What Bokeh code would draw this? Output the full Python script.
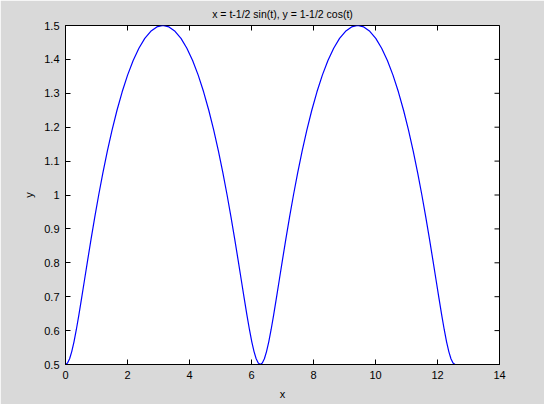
import math
from bokeh.plotting import figure
from bokeh.models import Range1d, FixedTicker
from bokeh.embed import file_html
from bokeh.resources import INLINE

# Points (x, y)
x_vals = [0.0, 0.0656, 0.1324, 0.2014, 0.2736, 0.3501, 0.4318, 0.5196, 0.6142, 0.7162,
          0.8260, 0.9442, 1.0708, 1.2060, 1.3496, 1.5016, 1.6614, 1.8286, 2.0026, 2.1827,
          2.3680, 2.5576, 2.7504, 2.9454, 3.1416, 3.3378, 3.5328, 3.7256, 3.9152, 4.1005,
          4.2806, 4.4546, 4.6218, 4.7816, 4.9336, 5.0772, 5.2124, 5.3390, 5.4572, 5.5670,
          5.6690, 5.7636, 5.8514, 5.9331, 6.0096, 6.0818, 6.1508, 6.2176, 6.2832,
          6.3488, 6.4156, 6.4846, 6.5568, 6.6333, 6.7150, 6.8028, 6.8974, 6.9994, 7.1092,
          7.2274, 7.3540, 7.4892, 7.6328, 7.7848, 7.9446, 8.1118, 8.2858, 8.4659, 8.6512,
          8.8408, 9.0336, 9.2286, 9.4248, 9.6210, 9.8160, 10.0088, 10.1984, 10.3837, 10.5638,
          10.7378, 10.9050, 11.0648, 11.2168, 11.3604, 11.4956, 11.6222, 11.7404, 11.8502,
          11.9522, 12.0468, 12.1346, 12.2163, 12.2928, 12.3650, 12.4340, 12.5008, 12.5664]
y_vals = [0.5, 0.5043, 0.5170, 0.5381, 0.5670, 0.6033, 0.6464, 0.6956, 0.75, 0.8087,
          0.8706, 0.9347, 1.0, 1.0653, 1.1294, 1.1913, 1.25, 1.3044, 1.3536, 1.3967,
          1.4330, 1.4619, 1.4830, 1.4957, 1.5, 1.4957, 1.4830, 1.4619, 1.4330, 1.3967,
          1.3536, 1.3044, 1.25, 1.1913, 1.1294, 1.0653, 1.0, 0.9347, 0.8706, 0.8087,
          0.75, 0.6956, 0.6464, 0.6033, 0.5670, 0.5381, 0.5170, 0.5043, 0.5,
          0.5043, 0.5170, 0.5381, 0.5670, 0.6033, 0.6464, 0.6956, 0.75, 0.8087,
          0.8706, 0.9347, 1.0, 1.0653, 1.1294, 1.1913, 1.25, 1.3044, 1.3536, 1.3967,
          1.4330, 1.4619, 1.4830, 1.4957, 1.5, 1.4957, 1.4830, 1.4619, 1.4330, 1.3967,
          1.3536, 1.3044, 1.25, 1.1913, 1.1294, 1.0653, 1.0, 0.9347, 0.8706, 0.8087,
          0.75, 0.6956, 0.6464, 0.6033, 0.5670, 0.5381, 0.5170, 0.5043, 0.5]

x_ticks = [0, 2, 4, 6, 8, 10, 12, 14]
y_ticks = [0.5, 0.6, 0.7, 0.8, 0.9, 1.0, 1.1, 1.2, 1.3, 1.4, 1.5]
y_tick_labels = {0.5: "0.5", 0.6: "0.6", 0.7: "0.7", 0.8: "0.8", 0.9: "0.9", 1.0: "1",
                 1.1: "1.1", 1.2: "1.2", 1.3: "1.3", 1.4: "1.4", 1.5: "1.5"}

title_text = "x = t-1/2 sin(t), y = 1-1/2 cos(t)"
FONT = "Liberation Sans"
BG = "#d9d9d9"
X_MIN, X_MAX = 0, 14
Y_MIN, Y_MAX = 0.5, 1.5

p = figure(width=544, height=404, output_backend="svg", toolbar_location=None,
           x_range=Range1d(X_MIN, X_MAX), y_range=Range1d(Y_MIN, Y_MAX),
           title=title_text, x_axis_label="x", y_axis_label="y",
           min_border_left=65, min_border_right=45, min_border_top=24, min_border_bottom=40)
p.border_fill_color = BG
p.background_fill_color = "white"
p.outline_line_color = "black"
p.outline_line_width = 1
p.grid.visible = False

p.title.align = "center"
p.title.text_font = FONT
p.title.text_font_size = "10.5px"
p.title.text_font_style = "normal"
p.title.text_color = "black"
p.title.standoff = 11

p.line(x_vals, y_vals, line_color="#0000ff", line_width=1.2)

# inward ticks on the top and right edges (box), clipped by the frame
p.scatter(x_ticks, [Y_MAX] * len(x_ticks), marker="dash", angle=math.pi / 2, size=10,
          line_color="black", line_width=1)
p.scatter([X_MAX] * len(y_ticks), y_ticks, marker="dash", size=10,
          line_color="black", line_width=1)

p.xaxis.ticker = FixedTicker(ticks=x_ticks)
p.yaxis.ticker = FixedTicker(ticks=y_ticks)
p.yaxis.major_label_overrides = y_tick_labels

for ax in (p.xaxis[0], p.yaxis[0]):
    ax.major_tick_in = 5
    ax.major_tick_out = 0
    ax.minor_tick_in = 0
    ax.minor_tick_out = 0
    ax.axis_line_color = "black"
    ax.major_tick_line_color = "black"
    ax.major_label_text_font = FONT
    ax.major_label_text_font_size = "11px"
    ax.major_label_text_color = "black"
    ax.axis_label_text_font = FONT
    ax.axis_label_text_font_size = "11px"
    ax.axis_label_text_font_style = "normal"
    ax.axis_label_text_color = "black"
    ax.major_label_standoff = 6
    ax.axis_label_standoff = 6

open("out.html", "w").write(file_html(p, INLINE))
